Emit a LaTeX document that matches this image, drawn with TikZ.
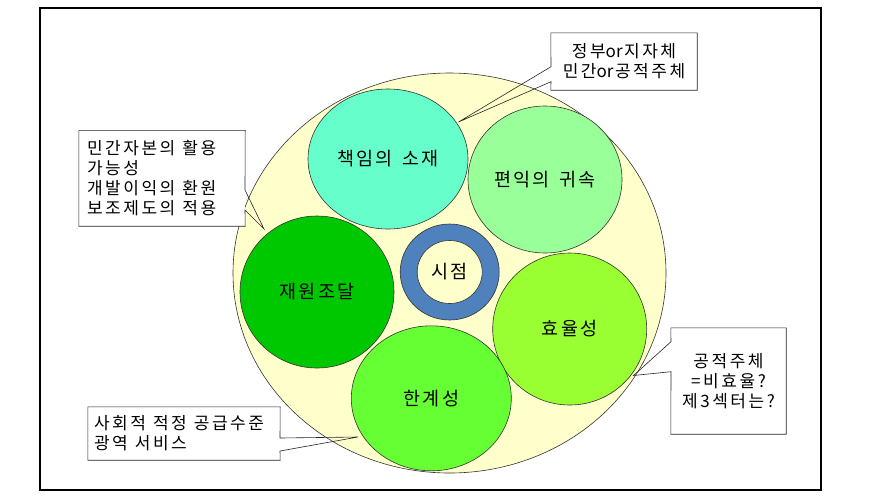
\documentclass[tikz,border=0pt]{standalone}
\usepackage{fontspec}
\newfontfamily\kr[LetterSpace=12,WordSpace=1.6]{Noto Sans CJK KR}
\newfontfamily\krc[LetterSpace=15]{Noto Sans CJK KR}
\newfontfamily\kro{Noto Sans CJK KR}
\newcommand\orword{{\kro or}\kern1.5pt}
\newcommand\wsp{\hspace{7pt}}
\usetikzlibrary{shapes.geometric}
\definecolor{cream}{HTML}{FFFFCC}
\definecolor{aqua}{HTML}{66FFCC}
\definecolor{lgreen}{HTML}{99FF99}
\definecolor{dgreen}{HTML}{00C800}
\definecolor{ygreen}{HTML}{99FF33}
\definecolor{mgreen}{HTML}{66FF33}
\definecolor{ringblue}{HTML}{4F81BD}
\begin{document}
\begin{tikzpicture}[x=1pt,y=-1pt,
  circ/.style={ellipse, draw=black!80, line width=0.6pt, inner sep=0pt, font=\kr\fontsize{18.5}{21}\selectfont},
  callbox/.style={rectangle, fill=white, draw=none, inner sep=0pt, font=\krc\fontsize{17}{20}\selectfont},
  callline/.style={draw=black!85, line width=0.6pt, line join=miter}]
\useasboundingbox (0,0) rectangle (888,499);
\fill[white] (0,0) rectangle (888,499);
\draw[line width=1.3pt] (40,8) rectangle (821,490);
% main ellipse and circles
\node[circ, fill=cream, minimum width=433pt, minimum height=400pt] (outer) at (449.5,273) {};
\node[circ, fill=aqua, minimum width=160pt, minimum height=140pt] (resp) at (388,159) {책임의 소재};
\node[circ, fill=lgreen, minimum width=154pt, minimum height=147pt] (bene) at (545,179.5) {편익의 귀속};
\node[circ, fill=dgreen, minimum width=154pt, minimum height=152pt] (fund) at (317,292) {재원조달};
\node[circ, fill=ygreen, minimum width=154pt, minimum height=152pt] (eff) at (569.7,329) {효율성};
\node[circ, fill=mgreen, minimum width=160pt, minimum height=145pt] (lim) at (431.3,398.3) {한계성};
\node[circ, fill=ringblue, minimum width=99pt, minimum height=96pt] (ring) at (449.7,272) {};
\node[circ, fill=cream, minimum width=65pt, minimum height=63pt] (point) at (449.7,272) {시점};
% callout 1 (top right)
\node[callbox, minimum width=146pt, minimum height=57pt, align=center] (c1) at (624,61.5) {정부\orword 지자체\\민간\orword 공적주체};
\coordinate (c1a) at (551,66.7);
\coordinate (c1b) at (551,81.7);
\coordinate (c1t) at (458.5,122);
\draw[callline] (c1a) -- (c1t) -- (c1b) -- (c1.south west) -- (c1.south east) -- (c1.north east) -- (c1.north west) -- cycle;
% callout 2 (left)
\node[callbox, text width=150pt, inner xsep=8pt, minimum height=95.5pt, align=left] (c2) at (162,178.3) {민간자본의\wsp 활용\\가능성\\개발이익의\wsp 환원\\보조제도의\wsp 적용};
\coordinate (c2a) at (245,190);
\coordinate (c2b) at (245,210);
\coordinate (c2t) at (264,229);
\draw[callline] (c2b) -- (c2t) -- (c2a) -- (c2.north east) -- (c2.north west) -- (c2.south west) -- (c2.south east) -- cycle;
% callout 3 (right)
\node[callbox, minimum width=115pt, minimum height=106pt, align=center] (c3) at (728.5,381) {공적주체\\=비효율?\\제3섹터는?};
\coordinate (c3a) at (671,341.7);
\coordinate (c3b) at (671,371.7);
\coordinate (c3t) at (633.5,375.5);
\draw[callline] (c3a) -- (c3t) -- (c3b) -- (c3.south west) -- (c3.south east) -- (c3.north east) -- (c3.north west) -- cycle;
% callout 4 (bottom left)
\node[callbox, text width=180pt, inner xsep=6pt, minimum height=53pt, align=left] (c4) at (184,433.5) {사회적\wsp 적정\wsp 공급수준\\광역\wsp 서비스};
\coordinate (c4a) at (280,438);
\coordinate (c4b) at (280,451);
\coordinate (c4t) at (358,437);
\draw[callline] (c4b) -- (c4t) -- (c4a) -- (c4.north east) -- (c4.north west) -- (c4.south west) -- (c4.south east) -- cycle;
\end{tikzpicture}
\end{document}
